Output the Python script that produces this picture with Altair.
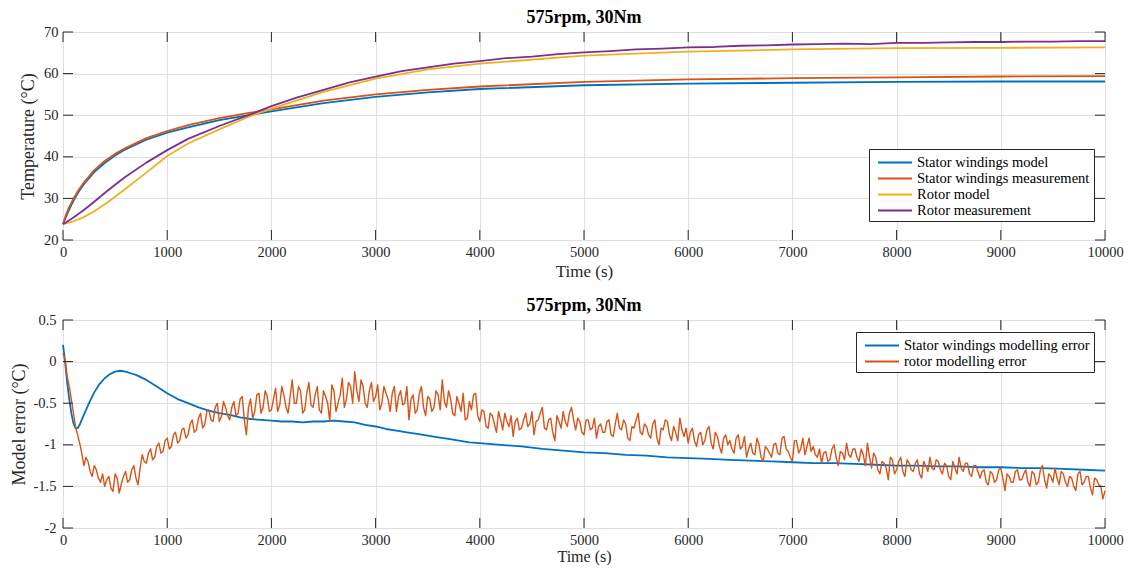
import altair as alt
import pandas as pd

W, H = 1042, 208
TICK = 10
FONT = "Liberation Serif"
INK = "#262626"
GRID = "#dfdfdf"

# ---------------- top panel data ----------------
stator_t = [0, 25, 50, 100, 150, 200, 300, 400, 500, 600, 800, 1000, 1200, 1500, 1800,
            2000, 2500, 3000, 3500, 4000, 5000, 6000, 7000, 8000, 9000, 10000]
stator_model = [23.8, 25.3, 26.8, 29.4, 31.6, 33.4, 36.3, 38.5, 40.3, 41.8, 44.1, 45.8, 47.1, 48.8, 50.1,
                50.9, 52.9, 54.4, 55.5, 56.3, 57.2, 57.6, 57.8, 58.0, 58.1, 58.1]
stator_meas = [23.8, 25.8, 27.4, 29.9, 32.0, 33.8, 36.8, 39.0, 40.7, 42.1, 44.5, 46.2, 47.6, 49.3, 50.6,
               51.4, 53.5, 55.0, 56.1, 56.9, 58.0, 58.6, 58.9, 59.1, 59.3, 59.4]

rotor_model_t = [0, 100, 200, 300, 400, 500, 600, 800, 1000, 1200, 1500, 1800, 2000, 2500, 3000,
                 3500, 4000, 5000, 6000, 7000, 8000, 9000, 10000]
rotor_model = [23.8, 24.5, 25.5, 26.9, 28.6, 30.4, 32.3, 36.2, 40.2, 43.2, 46.6, 49.8, 51.6, 55.6, 58.8,
               61.0, 62.4, 64.3, 65.3, 65.8, 66.1, 66.2, 66.3]

rotor_meas_t = [0, 100, 200, 300, 400, 500, 600, 800, 1000, 1200, 1500, 1800,
                2000, 2250, 2500, 2750, 3000, 3250, 3500, 3750, 4000, 4250, 4500, 4750, 5000,
                5250, 5500, 5750, 6000, 6250, 6500, 6750, 7000, 7250, 7500, 7750, 8000,
                8250, 8500, 8750, 9000, 9250, 9500, 9750, 10000]
rotor_meas = [23.8, 25.4, 27.2, 29.2, 31.3, 33.3, 35.2, 38.6, 41.6, 44.3, 47.4, 50.2,
              52.2, 54.3, 56.1, 57.9, 59.3, 60.6, 61.5, 62.4, 63.0, 63.7, 64.1, 64.7, 65.1,
              65.4, 65.8, 66.0, 66.3, 66.4, 66.7, 66.8, 67.0, 67.1, 67.2, 67.1, 67.4,
              67.4, 67.5, 67.6, 67.6, 67.7, 67.7, 67.8, 67.8]

# ---------------- bottom panel data ----------------
stator_err_t = [0, 20, 40, 60, 80, 100, 120, 140, 160, 180, 200,
                250, 300, 350, 400, 450, 500, 550, 600, 650, 700,
                800, 900, 1000, 1100, 1200, 1300, 1400, 1500, 1600, 1700, 1800, 1900, 2000,
                2100, 2200, 2300, 2400, 2500, 2600, 2700, 2800, 2900, 3000, 3100, 3200, 3300,
                3400, 3500, 3600, 3700, 3800, 3900, 4000,
                4200, 4400, 4600, 4800, 5000, 5200, 5400, 5600, 5800, 6000, 6200, 6400, 6600,
                6800, 7000, 7200, 7400, 7600, 7800, 8000, 8200, 8400, 8600, 8800, 9000, 9200,
                9400, 9600, 9800, 10000]
stator_err = [0.20, 0.0, -0.25, -0.45, -0.62, -0.74, -0.80, -0.80, -0.76, -0.70, -0.64,
              -0.50, -0.37, -0.27, -0.20, -0.15, -0.12, -0.11, -0.12, -0.14, -0.16,
              -0.22, -0.30, -0.38, -0.45, -0.50, -0.55, -0.59, -0.62, -0.64, -0.67, -0.69, -0.70, -0.71,
              -0.72, -0.72, -0.73, -0.72, -0.72, -0.71, -0.72, -0.73, -0.76, -0.78, -0.81, -0.83, -0.85,
              -0.87, -0.89, -0.91, -0.93, -0.95, -0.97, -0.98,
              -1.00, -1.02, -1.05, -1.07, -1.09, -1.10, -1.12, -1.13, -1.15, -1.16, -1.17, -1.18, -1.19,
              -1.20, -1.21, -1.22, -1.22, -1.23, -1.24, -1.25, -1.25, -1.26, -1.26, -1.27, -1.27, -1.28,
              -1.28, -1.29, -1.30, -1.31]

# rotor error sampled every 40 s (t = 0, 40, ...) and in between (t = 20, 60, ...)
rotor_err_t = list(range(0, 10001, 40))
rotor_err = [
    0.10, -0.18, -0.45, -0.78, -0.98, -1.25, -1.20, -1.38, -1.30, -1.45,
    -1.50, -1.38, -1.56, -1.40, -1.47, -1.32, -1.42, -1.25, -1.48, -1.12,
    -1.22, -1.05, -1.15, -0.98, -1.08, -0.92, -1.02, -0.85, -0.95, -0.80,
    -0.88, -0.70, -0.82, -0.62, -0.76, -0.58, -0.72, -0.50, -0.66, -0.55,
    -0.70, -0.48, -0.62, -0.42, -0.88, -0.45, -0.60, -0.38, -0.55, -0.42,
    -0.58, -0.32, -0.52, -0.40, -0.62, -0.22, -0.50, -0.35, -0.58, -0.25,
    -0.55, -0.30, -0.62, -0.42, -0.72, -0.35, -0.50, -0.20, -0.45, -0.30,
    -0.12, -0.48, -0.30, -0.55, -0.25, -0.42, -0.58, -0.30, -0.45, -0.38,
    -0.60, -0.35, -0.50, -0.70, -0.40, -0.58, -0.30, -0.65, -0.45, -0.55,
    -0.40, -0.22, -0.55, -0.45, -0.65, -0.50, -0.38, -0.68, -0.58, -0.38,
    -0.72, -0.60, -0.80, -0.65, -0.85, -0.70, -0.62, -0.78, -0.90, -0.68,
    -0.80, -0.62, -0.75, -0.88, -0.70, -0.55, -0.82, -0.68, -0.95, -0.72,
    -0.60, -0.78, -0.55, -0.82, -0.72, -0.88, -0.70, -0.80, -0.92, -0.75,
    -0.85, -0.70, -0.90, -0.62, -0.82, -0.75, -0.95, -0.80, -0.62, -0.88,
    -0.78, -0.92, -0.70, -1.00, -0.82, -0.72, -0.95, -0.85, -0.68, -0.90,
    -0.98, -0.80, -1.02, -0.85, -0.95, -0.78, -1.05, -0.90, -1.10, -0.88,
    -0.95, -1.10, -0.88, -1.02, -1.15, -0.98, -1.12, -1.00, -1.20, -1.05,
    -1.15, -0.98, -1.12, -0.90, -1.08, -1.20, -0.95, -1.05, -1.12, -0.92,
    -1.02, -1.15, -1.22, -1.08, -1.18, -1.00, -1.25, -1.10, -0.98, -1.15,
    -1.05, -1.20, -1.12, -0.98, -1.28, -1.15, -1.35, -1.22, -1.42, -1.18,
    -1.30, -1.15, -1.38, -1.22, -1.32, -1.18, -1.40, -1.25, -1.15, -1.30,
    -1.20, -1.35, -1.25, -1.42, -1.28, -1.15, -1.32, -1.22, -1.38, -1.25,
    -1.40, -1.30, -1.48, -1.35, -1.42, -1.28, -1.55, -1.38, -1.45, -1.30,
    -1.42, -1.30, -1.50, -1.35, -1.45, -1.25, -1.52, -1.38, -1.28, -1.48,
    -1.35, -1.50, -1.40, -1.55, -1.32, -1.45, -1.38, -1.60, -1.42, -1.50,
    -1.55,
]
rotor_err_mid_t = list(range(20, 10000, 40))
rotor_err_mid = [
    0.02, -0.30, -0.62, -0.88, -1.10, -1.15, -1.32, -1.25, -1.40, -1.35,
    -1.42, -1.52, -1.35, -1.58, -1.38, -1.45, -1.30, -1.40, -1.28, -1.20,
    -1.10, -1.18, -1.02, -1.10, -0.95, -1.05, -0.88, -0.98, -0.82, -0.92,
    -0.75, -0.85, -0.68, -0.80, -0.60, -0.70, -0.55, -0.72, -0.48, -0.65,
    -0.55, -0.65, -0.45, -0.70, -0.55, -0.68, -0.40, -0.62, -0.35, -0.60,
    -0.45, -0.60, -0.30, -0.55, -0.42, -0.50, -0.30, -0.62, -0.38, -0.52,
    -0.40, -0.58, -0.35, -0.50, -0.28, -0.60, -0.40, -0.55, -0.25, -0.50,
    -0.35, -0.22, -0.50, -0.35, -0.48, -0.28, -0.50, -0.38, -0.60, -0.30,
    -0.42, -0.52, -0.30, -0.45, -0.62, -0.38, -0.55, -0.42, -0.60, -0.35,
    -0.58, -0.48, -0.35, -0.62, -0.42, -0.60, -0.70, -0.48, -0.40, -0.65,
    -0.58, -0.78, -0.62, -0.75, -0.60, -0.82, -0.72, -0.65, -0.72, -0.82,
    -0.70, -0.78, -0.60, -0.72, -0.62, -0.80, -0.70, -0.85, -0.65, -0.80,
    -0.72, -0.62, -0.70, -0.68, -0.85, -0.70, -0.82, -0.68, -0.78, -0.85,
    -0.72, -0.88, -0.75, -0.80, -0.70, -0.92, -0.78, -0.70, -0.85, -0.75,
    -0.88, -0.75, -0.92, -0.80, -0.70, -0.88, -0.78, -0.95, -0.82, -0.80,
    -0.85, -0.95, -0.88, -1.00, -0.82, -0.98, -0.85, -1.02, -0.92, -1.00,
    -1.05, -0.92, -1.05, -0.90, -1.05, -1.10, -0.92, -1.15, -1.02, -1.10,
    -1.00, -1.10, -0.92, -1.05, -1.15, -0.95, -1.10, -0.92, -1.02, -1.08,
    -1.12, -1.05, -1.10, -1.20, -1.05, -1.15, -1.08, -1.18, -1.12, -1.05,
    -1.15, -1.05, -1.25, -1.15, -1.10, -1.30, -1.20, -1.28, -1.15, -1.35,
    -1.20, -1.32, -1.18, -1.30, -1.22, -1.35, -1.20, -1.32, -1.28, -1.18,
    -1.30, -1.22, -1.38, -1.20, -1.35, -1.28, -1.22, -1.35, -1.25, -1.32,
    -1.32, -1.45, -1.32, -1.45, -1.30, -1.40, -1.35, -1.45, -1.32, -1.42,
    -1.35, -1.45, -1.32, -1.48, -1.30, -1.42, -1.35, -1.45, -1.40, -1.32,
    -1.45, -1.38, -1.50, -1.35, -1.48, -1.38, -1.52, -1.40, -1.48, -1.65,
]

x_ticks = [0, 1000, 2000, 3000, 4000, 5000, 6000, 7000, 8000, 9000, 10000]
top_y_ticks = [20, 30, 40, 50, 60, 70]
bot_y_ticks = [-2, -1.5, -1, -0.5, 0, 0.5]

top_names = ["Stator windings model", "Stator windings measurement", "Rotor model", "Rotor measurement"]
top_colors = ["#0072BD", "#D95319", "#EDB120", "#7E2F8E"]
bot_names = ["Stator windings modelling error", "rotor modelling error"]
bot_colors = ["#0072BD", "#D95319"]


def frame(t, v, name):
    return pd.DataFrame({"t": t, "v": v, "series": name})


top_series = [frame(stator_t, stator_model, top_names[0]),
              frame(stator_t, stator_meas, top_names[1]),
              frame(rotor_model_t, rotor_model, top_names[2]),
              frame(rotor_meas_t, rotor_meas, top_names[3])]
bot_series = [frame(stator_err_t, stator_err, bot_names[0]),
              pd.concat([frame(rotor_err_t, rotor_err, bot_names[1]),
                         frame(rotor_err_mid_t, rotor_err_mid, bot_names[1])])]


def panel(series, names, colors, ydom, yticks, ytitle, lx, ly, label_pad, title_pad,
          x_title_pad, x_title_size, widths):
    xs = alt.Scale(domain=[0, 10000], nice=False, zero=False)
    ys = alt.Scale(domain=ydom, nice=False, zero=False)
    common = dict(ticks=False, domain=False, labelExpr="datum.value + ''",
                  labelFont=FONT, labelFontSize=14.5, labelColor=INK,
                  titleFont=FONT, titleColor=INK, titleFontWeight="normal",
                  gridColor=GRID, gridWidth=1, gridOpacity=1, labelFlush=False)
    xaxis = alt.Axis(values=x_ticks, title="Time (s)", labelPadding=5, titlePadding=x_title_pad,
                     titleFontSize=x_title_size, **common)
    yaxis = alt.Axis(values=yticks, title=ytitle, labelPadding=label_pad, titlePadding=title_pad,
                     titleFontSize=18, **common)
    X = alt.X("t:Q", scale=xs, axis=xaxis)
    Y = alt.Y("v:Q", scale=ys, axis=yaxis)
    color = alt.Color(
        "series:N",
        scale=alt.Scale(domain=names, range=colors),
        legend=alt.Legend(
            title=None, orient="none", legendX=lx, legendY=ly,
            symbolType="M-2,0H2", symbolSize=289, symbolStrokeWidth=2,
            symbolOffset=12.5, labelOffset=12.5, labelLimit=400,
            labelFont=FONT, labelFontSize=14.5, labelColor="black",
            strokeColor=INK, fillColor="white", padding=4, rowPadding=0,
        ),
    )
    layers = []
    for df, sw in zip(series, widths):
        layers.append(alt.Chart(df).mark_line(strokeWidth=sw, strokeJoin="round")
                      .encode(x=X, y=Y, color=color))
    xt = pd.DataFrame({"t": x_ticks})
    yt = pd.DataFrame({"v": yticks})
    layers.append(alt.Chart(xt).mark_rule(color=INK, strokeWidth=1)
                  .encode(x=X, y=alt.value(0), y2=alt.value(TICK)))
    layers.append(alt.Chart(xt).mark_rule(color=INK, strokeWidth=1)
                  .encode(x=X, y=alt.value(H - TICK), y2=alt.value(H)))
    layers.append(alt.Chart(yt).mark_rule(color=INK, strokeWidth=1)
                  .encode(y=Y, x=alt.value(0), x2=alt.value(TICK)))
    layers.append(alt.Chart(yt).mark_rule(color=INK, strokeWidth=1)
                  .encode(y=Y, x=alt.value(W - TICK), x2=alt.value(W)))
    return alt.layer(*layers).properties(
        width=W, height=H,
        title=alt.TitleParams("575rpm, 30Nm", font=FONT, fontSize=18, fontWeight="bold",
                              color="black", offset=-3, anchor="middle"),
    )


top = panel(top_series, top_names, top_colors, [20, 70], top_y_ticks, "Temperature (°C)",
            806, 117, 5, 6, 5, 17, [1.8, 1.8, 1.8, 1.8])
bot = panel(bot_series, bot_names, bot_colors, [-2, 0.5], bot_y_ticks, "Model error (°C)",
            793, 12, 7, 5, 2, 16, [1.8, 1.4])

chart = (
    alt.vconcat(top, bot, spacing=80, bounds="flush")
    .resolve_scale(color="independent")
    .resolve_legend(color="independent")
    .properties(padding={"left": 1, "top": 0, "right": 0, "bottom": 0})
    .configure_view(stroke=INK, strokeWidth=1)
)

chart.save("out.html", embed_options={"renderer": "svg", "actions": False})
